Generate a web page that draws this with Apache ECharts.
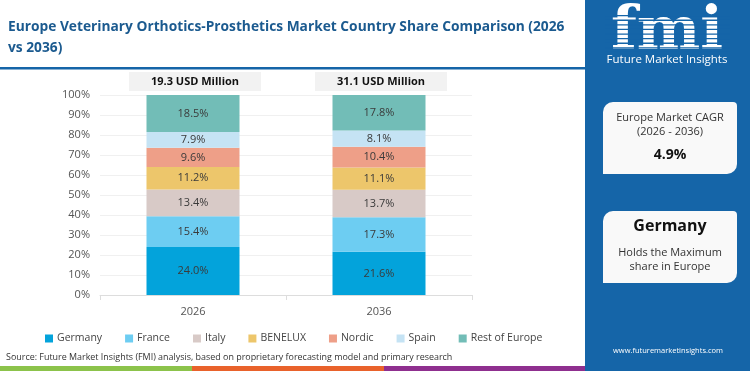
<!DOCTYPE html>
<html><head><meta charset="utf-8">
<script src="https://cdn.jsdelivr.net/npm/echarts@6/dist/echarts.min.js"></script>
<style>html,body{margin:0;padding:0;background:#fff}#c{width:750px;height:371px}</style>
</head><body><div id="c"></div>
<script>
const years = ['2026', '2036'];
const totals = ['19.3 USD Million', '31.1 USD Million'];
const countries = ['Germany', 'France', 'Italy', 'BENELUX', 'Nordic', 'Spain', 'Rest of Europe'];
const germany = [24.0, 21.6];
const france = [15.4, 17.3];
const italy = [13.4, 13.7];
const benelux = [11.2, 11.1];
const nordic = [9.6, 10.4];
const spain = [7.9, 8.1];
const restOfEurope = [18.5, 17.8];
const seriesValues = [germany, france, italy, benelux, nordic, spain, restOfEurope];
const colors = ['#03a3db', '#6dcdf2', '#d8cac7', '#edc66b', '#ee9f88', '#c5e3f4', '#72bdb7'];
const cagrText = '4.9%';
const titleLine1 = 'Europe Veterinary Orthotics-Prosthetics Market Country Share Comparison (2026';
const titleLine2 = 'vs 2036)';
const sourceText = 'Source: Future Market Insights (FMI) analysis, based on proprietary forecasting model and primary research';

const FONT = 'Open Sans';
const ctx = document.createElement('canvas').getContext('2d');
function fitSize(text, weight, family, target) {
  ctx.font = weight + ' 100px "' + family + '"';
  return 100 * target / ctx.measureText(text).width;
}
const titleSize = fitSize(titleLine1, 'bold', FONT, 557);
const sourceSize = fitSize(sourceText, 'normal', FONT, 447);

const chart = echarts.init(document.getElementById('c'), null, {renderer: 'canvas'});

const series = countries.map((name, i) => ({
  name: name,
  type: 'bar',
  stack: 'share',
  barWidth: 93,
  data: seriesValues[i],
  itemStyle: {color: colors[i]},
  label: {
    show: true, position: 'inside', color: '#3a3a3a', fontSize: 11, fontFamily: FONT,
    formatter: p => p.value.toFixed(1) + '%'
  }
}));

chart.setOption({
  animation: false,
  textStyle: {fontFamily: FONT},
  grid: {left: 100, right: 278, top: 95, bottom: 76},
  xAxis: {
    type: 'category', data: years,
    axisLine: {lineStyle: {color: '#dddddd'}},
    axisTick: {show: true, lineStyle: {color: '#dddddd'}},
    axisLabel: {color: '#555', fontSize: 11, margin: 11, fontFamily: FONT}
  },
  yAxis: {
    type: 'value', min: 0, max: 100, interval: 10,
    axisLabel: {formatter: '{value}%', color: '#555', fontSize: 11, margin: 10, fontFamily: FONT},
    splitLine: {lineStyle: {color: '#f0f0f0'}},
    axisLine: {show: false}, axisTick: {show: false}
  },
  legend: {
    data: countries, left: 40, top: 328, icon: 'rect', itemWidth: 8, itemHeight: 8, itemGap: 23,
    textStyle: {color: '#444', fontSize: 10.5, fontFamily: FONT, padding: [0, 0, 0, -1]}
  },
  series: series
});

const graphics = [];
years.forEach((y, i) => {
  const cx = chart.convertToPixel({xAxisIndex: 0}, y);
  graphics.push({type: 'rect', shape: {x: cx - 64, y: 72, width: 132, height: 19}, style: {fill: '#f2f2f2'}});
  graphics.push({type: 'text', x: cx + 2, y: 82, style: {text: totals[i], fill: '#111', font: 'bold 11px ' + FONT, align: 'center', verticalAlign: 'middle'}});
});
graphics.push({type: 'text', x: 8, y: 27, style: {text: titleLine1, fill: '#1b5a8f', font: 'bold ' + titleSize.toFixed(2) + 'px "' + FONT + '"', verticalAlign: 'middle'}});
graphics.push({type: 'text', x: 8, y: 48, style: {text: titleLine2, fill: '#1b5a8f', font: 'bold ' + titleSize.toFixed(2) + 'px "' + FONT + '"', verticalAlign: 'middle'}});
graphics.push({type: 'rect', shape: {x: 0, y: 67, width: 585, height: 2.5}, style: {fill: '#1565a8'}});
graphics.push({type: 'text', x: 6, y: 357, style: {text: sourceText, fill: '#333', font: sourceSize.toFixed(2) + 'px "' + FONT + '"', verticalAlign: 'middle'}});
graphics.push({type: 'rect', shape: {x: 0, y: 366, width: 192, height: 5}, style: {fill: '#8cc34b'}});
graphics.push({type: 'rect', shape: {x: 192, y: 366, width: 192, height: 5}, style: {fill: '#e9622b'}});
graphics.push({type: 'rect', shape: {x: 384, y: 366, width: 201, height: 5}, style: {fill: '#8f2f8f'}});
graphics.push({type: 'rect', shape: {x: 585, y: 0, width: 165, height: 371}, style: {fill: '#1565a8'}});
graphics.push({type: 'text', x: 667, y: 33, style: {text: 'fmi', fill: '#ffffff', font: 'bold 60px "DejaVu Serif"', align: 'center', verticalAlign: 'middle'}});
for (let k = 0; k < 9; k++) {
  graphics.push({type: 'rect', shape: {x: 605, y: 15 + k * 4.6, width: 125, height: 1.3}, style: {fill: '#1565a8'}});
}
graphics.push({type: 'text', x: 667, y: 60, style: {text: 'Future Market Insights', fill: '#ffffff', font: '11.5px ' + FONT, align: 'center', verticalAlign: 'middle'}});
graphics.push({type: 'rect', shape: {x: 603, y: 102, width: 134, height: 72, r: [10, 4, 10, 0]}, style: {fill: '#f9f9f9'}});
graphics.push({type: 'text', x: 670, y: 118, style: {text: 'Europe Market CAGR', fill: '#333', font: '11px ' + FONT, align: 'center', verticalAlign: 'middle'}});
graphics.push({type: 'text', x: 670, y: 132, style: {text: '(2026 - 2036)', fill: '#333', font: '11px ' + FONT, align: 'center', verticalAlign: 'middle'}});
graphics.push({type: 'text', x: 670, y: 155, style: {text: cagrText, fill: '#111', font: 'bold 14px ' + FONT, align: 'center', verticalAlign: 'middle'}});
graphics.push({type: 'rect', shape: {x: 603, y: 211, width: 134, height: 72, r: [10, 4, 10, 0]}, style: {fill: '#f9f9f9'}});
graphics.push({type: 'text', x: 670, y: 226, style: {text: countries[0], fill: '#111', font: 'bold 16px ' + FONT, align: 'center', verticalAlign: 'middle'}});
graphics.push({type: 'text', x: 670, y: 253, style: {text: 'Holds the Maximum', fill: '#333', font: '11px ' + FONT, align: 'center', verticalAlign: 'middle'}});
graphics.push({type: 'text', x: 670, y: 267, style: {text: 'share in Europe', fill: '#333', font: '11px ' + FONT, align: 'center', verticalAlign: 'middle'}});
graphics.push({type: 'text', x: 668, y: 351, style: {text: 'www.futuremarketinsights.com', fill: '#ffffff', font: '7.5px ' + FONT, align: 'center', verticalAlign: 'middle'}});

chart.setOption({graphic: graphics});
</script></body></html>
